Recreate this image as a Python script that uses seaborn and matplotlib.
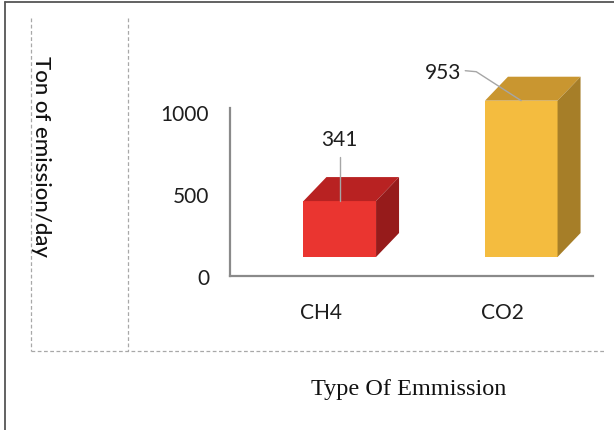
import matplotlib
matplotlib.use("Agg")
import matplotlib.pyplot as plt
from matplotlib.patches import Polygon
from matplotlib.lines import Line2D
import seaborn as sns
import pandas as pd

categories = ["CH4", "CO2"]
emissions = [341, 953]
yticks = [0, 500, 1000]
front_colors = ["#EA3530", "#F4BC3F"]
top_colors = ["#B82222", "#C99630"]
side_colors = ["#961B1B", "#A67E28"]

W, H, DPI = 614, 431, 100
sns.set_theme(style="white")
plt.rcParams["font.family"] = ["Lato", "DejaVu Sans"]

fig = plt.figure(figsize=(W / DPI, H / DPI), dpi=DPI)


def fx(px):
    return px / W


def fy(py):
    return 1 - py / H


# plotting area (pixel box of the 2-D axis frame)
ax_l, ax_r, ax_t, ax_b = 230, 593, 109, 277
ax = fig.add_axes([fx(ax_l), fy(ax_b), fx(ax_r) - fx(ax_l), fy(ax_t) - fy(ax_b)])

df = pd.DataFrame({"gas": categories, "tons": emissions})
sns.barplot(data=df, x="gas", y="tons", hue="gas", palette=front_colors,
            width=0.4, legend=False, ax=ax, saturation=1)

txt = "#1e1e1e"
ax.set_xlim(-0.5, 1.5)
ax.set_ylim(0, (ax_b - ax_t) / 0.164)
ax.set_yticks(yticks)
ax.set_yticklabels([str(v) for v in yticks])
ax.tick_params(axis="both", length=0, labelsize=15, colors=txt)
ax.tick_params(axis="y", pad=15)
ax.tick_params(axis="x", pad=19)
ax.set_xlabel("")
ax.set_ylabel("")
ax.set_facecolor("none")
for s in ("top", "right"):
    ax.spines[s].set_visible(False)
for s in ("left", "bottom"):
    ax.spines[s].set_color("#8a8a8a")
    ax.spines[s].set_linewidth(1.6)

# 3-D look: shift the front faces and add top / side faces
shift = (19, 19)   # pixels, right / up
depth = (23, 24)   # pixels, right / up
fig.canvas.draw()
to_disp = ax.transData
anchors = []
for i, patch in enumerate(ax.patches):
    x0 = patch.get_x()
    w = patch.get_width()
    h = patch.get_height()
    (a0, b0) = to_disp.transform((x0, 0))
    (a1, b1) = to_disp.transform((x0 + w, h))
    a0 += shift[0]; a1 += shift[0]
    b0 += shift[1]; b1 += shift[1]
    dx, dy = depth
    patch.set_visible(False)
    front = Polygon([(a0, b0), (a1, b0), (a1, b1), (a0, b1)], closed=True,
                    transform=None, facecolor=front_colors[i], edgecolor="none",
                    zorder=3)
    top = Polygon([(a0, b1), (a1, b1), (a1 + dx, b1 + dy), (a0 + dx, b1 + dy)],
                  closed=True, transform=None, facecolor=top_colors[i],
                  edgecolor="none", zorder=3)
    side = Polygon([(a1, b0), (a1 + dx, b0 + dy), (a1 + dx, b1 + dy), (a1, b1)],
                   closed=True, transform=None, facecolor=side_colors[i],
                   edgecolor="none", zorder=3)
    for p in (front, top, side):
        fig.add_artist(p)
    anchors.append(((a0 + a1) / 2, b1))

# value labels with leader lines
lead = "#a6a6a6"
(cx, cy) = anchors[0]
fig.add_artist(Line2D([cx, cx], [cy, cy + 44], transform=None, color=lead,
                      lw=1.0, zorder=4))
fig.text(cx / W, (cy + 62) / H, str(emissions[0]), ha="center", va="center",
         fontsize=15, color=txt)
(cx, cy) = anchors[1]
fig.add_artist(Line2D([cx, cx - 45, cx - 56], [cy, cy + 29, cy + 30],
                      transform=None, color=lead, lw=1.0, zorder=4))
fig.text((cx - 78) / W, (cy + 29) / H, str(emissions[1]), ha="center",
         va="center", fontsize=15, color=txt)

# y-axis title, read top to bottom
fig.text(fx(41), fy(156), "Ton of emission/day", rotation=270, ha="center",
         va="center", fontsize=16, color="#111111", fontweight="medium")

# x-axis title in serif type
fig.text(fx(409), fy(390), "Type Of Emmission", ha="center", va="center",
         fontsize=17.5, color="#111111", family=["Liberation Serif", "DejaVu Serif"])

# dashed frame lines
dash = dict(color="#a8a8a8", lw=0.9, linestyle=(0, (3, 2)))
fig.add_artist(Line2D([fx(31), fx(31)], [fy(19), fy(352)], **dash))
fig.add_artist(Line2D([fx(128), fx(128)], [fy(19), fy(352)], **dash))
fig.add_artist(Line2D([fx(31), fx(605)], [fy(352), fy(352)], **dash))

# outer border
border = dict(color="#555555", lw=1.3)
fig.add_artist(Line2D([fx(5), fx(5)], [fy(3), fy(431)], **border))
fig.add_artist(Line2D([fx(5), fx(614)], [fy(3), fy(3)], **border))

fig.savefig("out.png", dpi=DPI)
